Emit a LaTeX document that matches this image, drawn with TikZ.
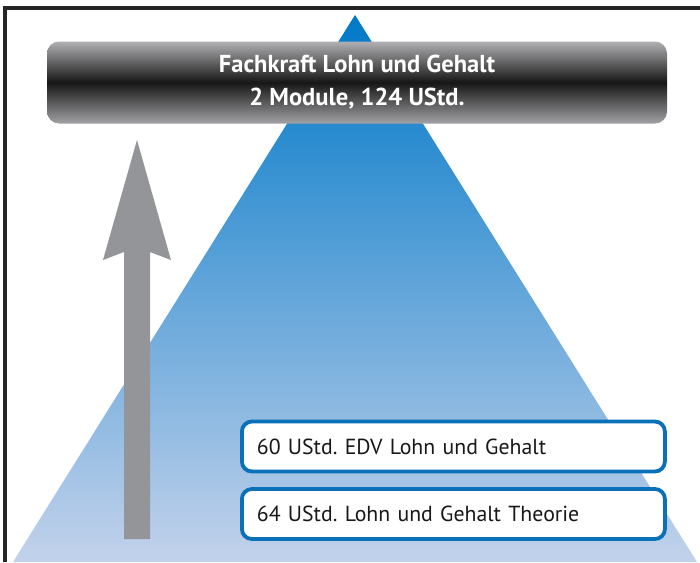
\documentclass[tikz,border=0pt]{standalone}
\usepackage{fontspec}
\setmainfont{PT Sans}
\usepackage{tikz}
\usetikzlibrary{positioning}
\definecolor{ink}{HTML}{1A1718}
\definecolor{frame}{HTML}{262626}
\definecolor{edge}{HTML}{0A70B8}
\definecolor{peak}{HTML}{0078C8}
\definecolor{midblue}{HTML}{6E9BD7}
\definecolor{base}{HTML}{C3D2EB}
\definecolor{shaft}{HTML}{939598}
\definecolor{bargrey}{HTML}{B0B0B3}
\definecolor{barblack}{HTML}{161616}
\frenchspacing
\tikzset{
  banner/.style={rounded corners=12pt, top color=bargrey, bottom color=bargrey!92!black,
    middle color=barblack, minimum width=620pt, minimum height=82pt, align=center,
    text=white, font=\bfseries\fontsize{24.5}{33}\selectfont, inner sep=0pt},
  module/.style={rounded corners=10pt, draw=edge, line width=3.8pt, fill=white,
    text=ink, anchor=west, align=left, inner xsep=15pt, text width=393pt,
    minimum height=50pt, font=\fontsize{21.8}{25}\selectfont}
}

\begin{document}
\begin{tikzpicture}[x=1pt,y=-1pt]
  \useasboundingbox (0,0) rectangle (700,562);
  \fill[white] (0,0) rectangle (700,562);

  % Pyramid behind everything.
  \shade[top color=peak, middle color=midblue, bottom color=base]
    (355,15) -- (697,562) -- (13,562) -- cycle;

  % Outer frame, top and left only.
  \draw[frame, line width=3.2pt] (700,8) -- (5,8) -- (5,562);

  % Rising arrow.
  \fill[shaft] (124,539) -- (124,252) -- (103,260) -- (137,140)
    -- (171,260) -- (150,252) -- (150,539) -- cycle;

  % Banner on top.
  \node[banner] (title) at (357,82.5)
    {Fachkraft Lohn und Gehalt\\2 Module, 124 UStd.};

  % Module boxes.
  \node[module] (edv) at (240,446.5) {60 UStd. EDV Lohn und Gehalt};
  \node[module] (theorie) at (240,514) {64 UStd. Lohn und Gehalt Theorie};

\end{tikzpicture}
\end{document}
